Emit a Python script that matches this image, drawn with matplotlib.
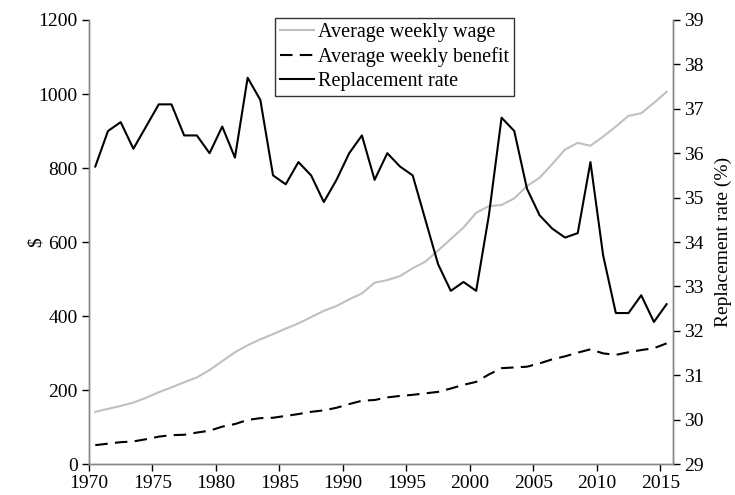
import numpy as np
import matplotlib
matplotlib.use('Agg')
import matplotlib.pyplot as plt

plt.rcParams['font.family'] = ['Liberation Serif', 'DejaVu Serif']

years = np.arange(1970, 2016)

wage = [141, 149, 157, 166, 179, 194, 207, 221, 234, 254,
        278, 302, 321, 337, 351, 366, 380, 397, 414, 427,
        445, 461, 490, 497, 508, 529, 547, 577, 608, 639,
        679, 697, 700, 718, 751, 774, 811, 850, 868, 860,
        885, 912, 941, 948, 976, 1006]

benefit = [51, 55, 59, 61, 67, 74, 78, 79, 85, 90,
           101, 108, 119, 124, 125, 130, 135, 141, 145, 152,
           162, 171, 173, 180, 184, 187, 191, 195, 204, 214,
           222, 242, 259, 261, 263, 272, 283, 291, 301, 310,
           299, 295, 302, 308, 313, 326]

rate = [35.7, 36.5, 36.7, 36.1, 36.6, 37.1, 37.1, 36.4, 36.4, 36.0,
        36.6, 35.9, 37.7, 37.2, 35.5, 35.3, 35.8, 35.5, 34.9, 35.4,
        36.0, 36.4, 35.4, 36.0, 35.7, 35.5, 34.5, 33.5, 32.9, 33.1,
        32.9, 34.6, 36.8, 36.5, 35.2, 34.6, 34.3, 34.1, 34.2, 35.8,
        33.7, 32.4, 32.4, 32.8, 32.2, 32.6]

spine_col = '#868686'
fs = 14

fig = plt.figure(figsize=(7.35, 4.95), dpi=100)
ax = fig.add_axes([0.121, 0.0626, 0.7946, 0.897])
ax2 = ax.twinx()

# points sit in the middle of each year slot
x = years + 0.5
l1, = ax.plot(x, wage, color='#c0c0c0', lw=1.5, label='Average weekly wage')
l2, = ax.plot(x, benefit, color='black', lw=1.5, dashes=(6, 3.5), label='Average weekly benefit')
l3, = ax2.plot(x, rate, color='black', lw=1.5, label='Replacement rate')

ax.set_xlim(1970, 2016)
ax.set_ylim(0, 1200)
ax2.set_ylim(29, 39)
ax.set_xticks(np.arange(1970, 2016, 5))
ax.set_yticks(np.arange(0, 1201, 200))
ax2.set_yticks(np.arange(29, 40, 1))

for a in (ax, ax2):
    a.spines['top'].set_visible(False)
    for s in ('left', 'right', 'bottom'):
        a.spines[s].set_color(spine_col)
        a.spines[s].set_linewidth(1.0)
    a.tick_params(direction='out', length=5, width=1, color='black', labelsize=fs, pad=3)

ax.set_ylabel('$', fontsize=fs)
ax.yaxis.set_label_coords(-0.075, 0.5)
ax2.set_ylabel('Replacement rate (%)', fontsize=fs)
ax2.yaxis.set_label_coords(1.072, 0.5)

leg = ax.legend(handles=[l1, l2, l3], loc='upper left', bbox_to_anchor=(0.3185, 1.005),
                fontsize=14.5, frameon=True, fancybox=False, edgecolor='black',
                handlelength=1.7, handletextpad=0.2, borderpad=0.25,
                labelspacing=0.25, borderaxespad=0.0)
leg.get_frame().set_linewidth(1.0)
leg.set_zorder(5)

fig.savefig('out.png', dpi=100)
